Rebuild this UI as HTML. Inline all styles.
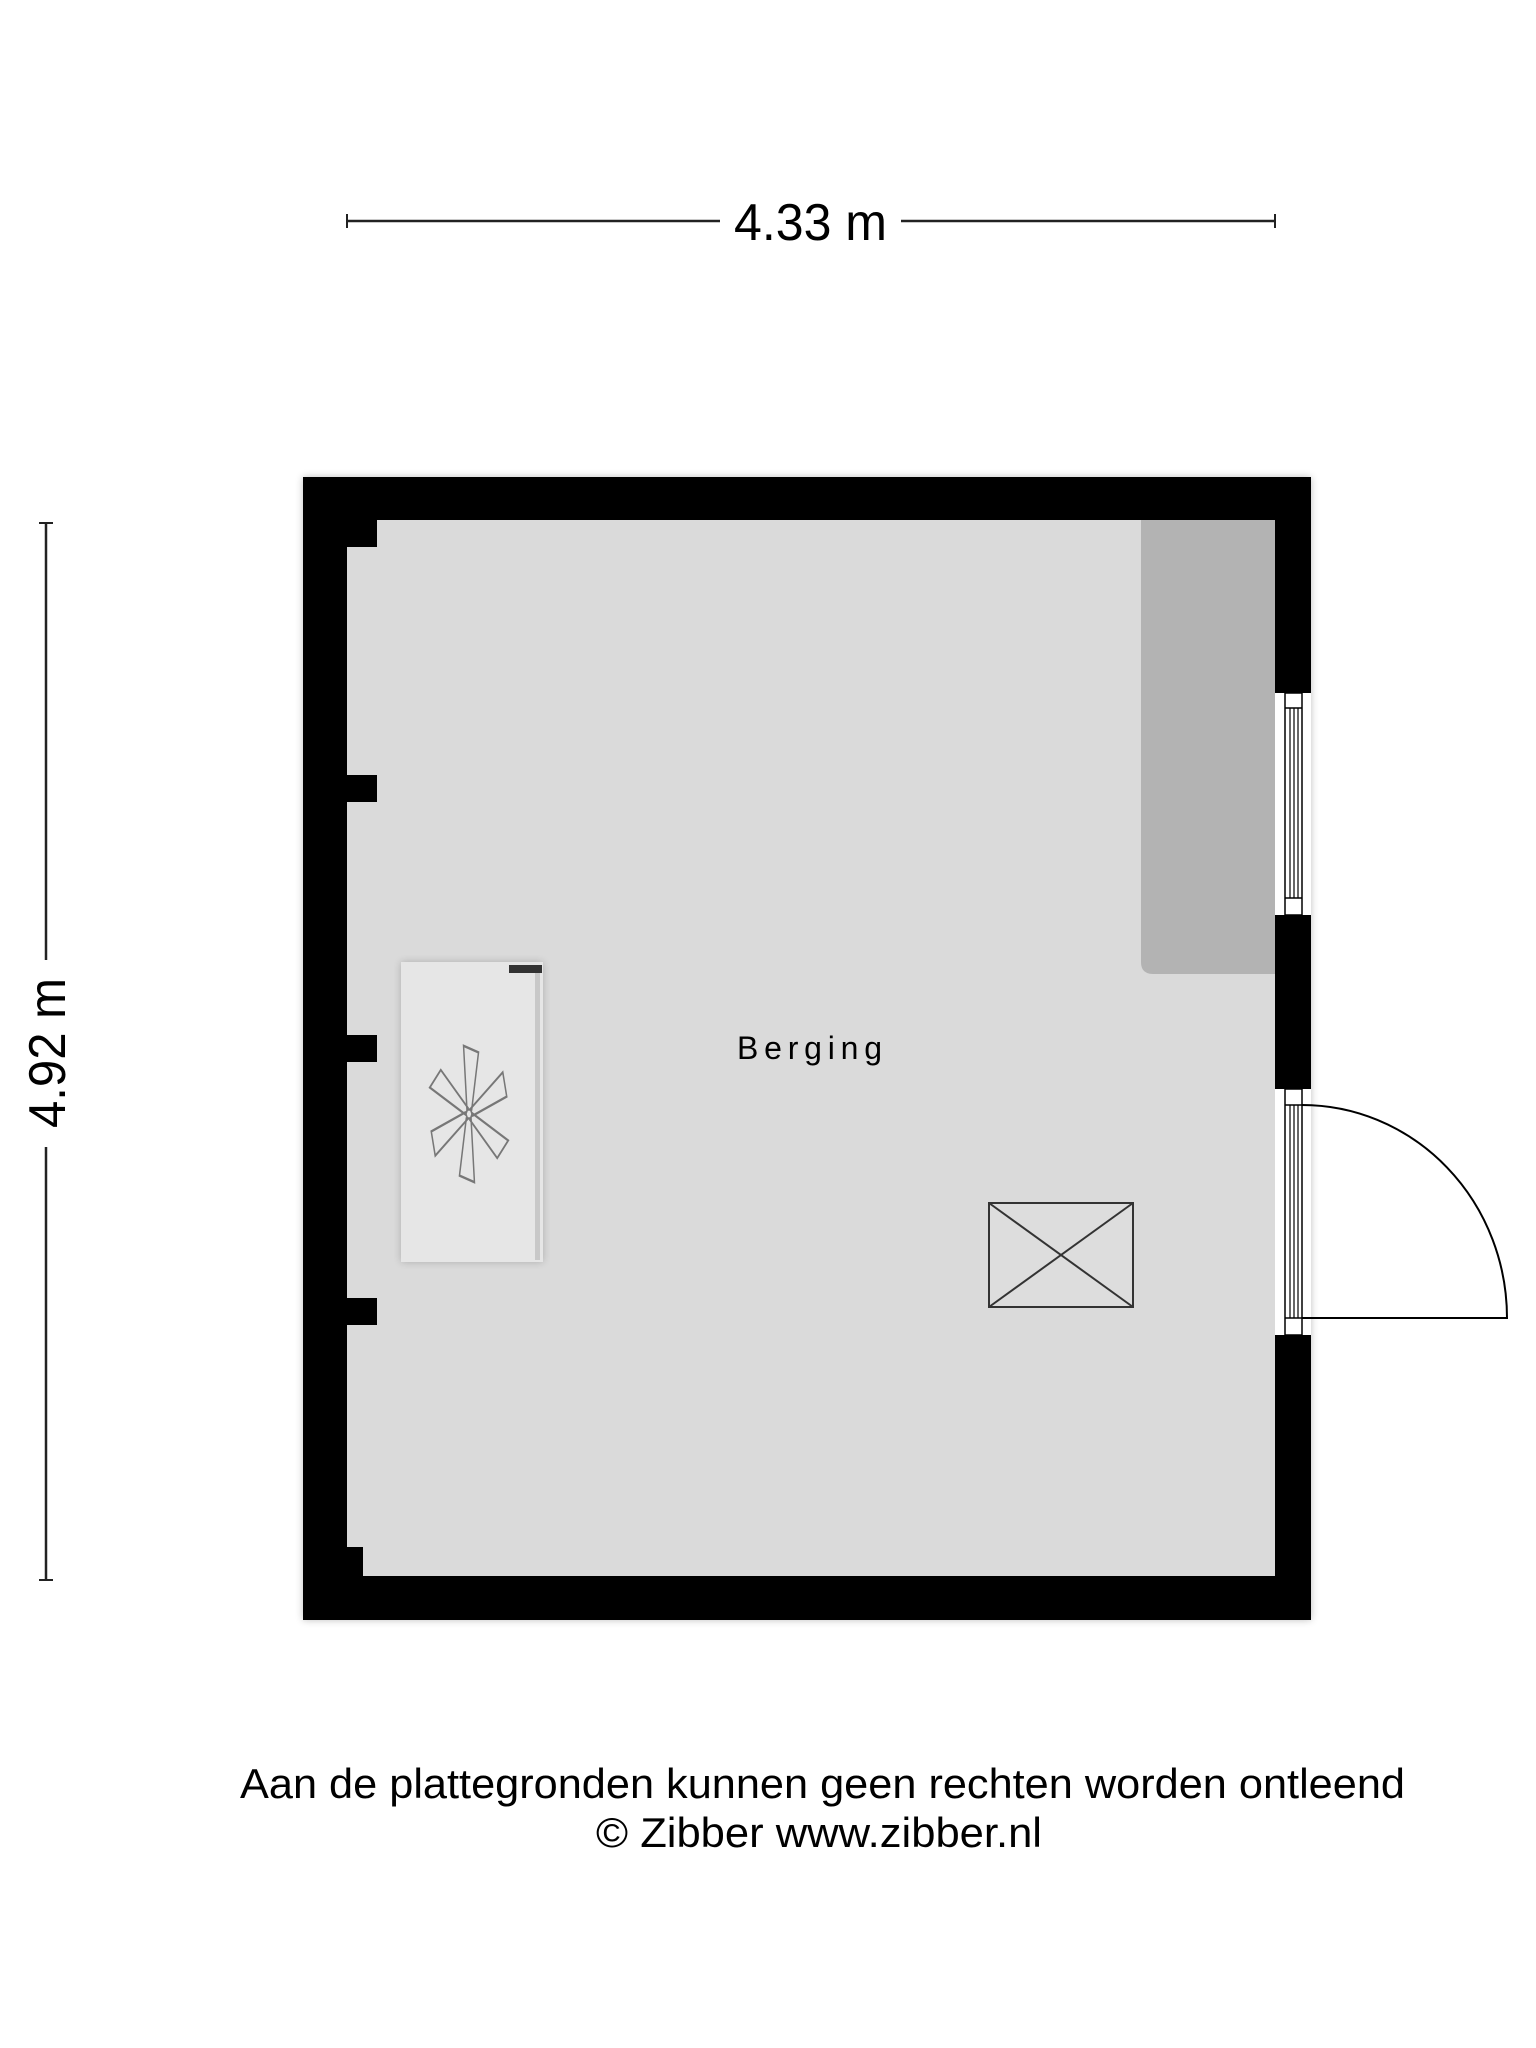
<!DOCTYPE html>
<html><head><meta charset="utf-8"><style>
html,body{margin:0;padding:0;background:#fff;width:1536px;height:2048px;overflow:hidden}
svg{display:block}
text{font-family:"Liberation Sans",sans-serif;fill:#000}
</style></head><body>
<svg width="1536" height="2048" viewBox="0 0 1536 2048" xmlns="http://www.w3.org/2000/svg">
<defs>
<filter id="sh" x="-5%" y="-5%" width="110%" height="110%"><feGaussianBlur stdDeviation="4"/></filter>
</defs>
<!-- top dimension -->
<line x1="346" y1="221" x2="720" y2="221" stroke="#222" stroke-width="2.5"/>
<line x1="901" y1="221" x2="1276" y2="221" stroke="#222" stroke-width="2.5"/>
<line x1="347" y1="214" x2="347" y2="228" stroke="#222" stroke-width="2"/>
<line x1="1275" y1="214" x2="1275" y2="228" stroke="#222" stroke-width="2"/>
<text x="734" y="240" font-size="52" textLength="153" lengthAdjust="spacingAndGlyphs">4.33 m</text>
<!-- left dimension -->
<line x1="46" y1="523" x2="46" y2="960" stroke="#222" stroke-width="2.5"/>
<line x1="46" y1="1147" x2="46" y2="1580" stroke="#222" stroke-width="2.5"/>
<line x1="39" y1="523" x2="53" y2="523" stroke="#222" stroke-width="2"/>
<line x1="39" y1="1580" x2="53" y2="1580" stroke="#222" stroke-width="2"/>
<text transform="translate(65,1128) rotate(-90)" font-size="52" textLength="150" lengthAdjust="spacingAndGlyphs">4.92 m</text>
<!-- shadow -->
<rect x="303" y="477" width="1008" height="1143" fill="#000" opacity="0.25" filter="url(#sh)"/>
<!-- walls -->
<rect x="303" y="477" width="1008" height="1143" fill="#000"/>
<!-- floor -->
<path d="M377 520 H1275 V1576 H363 V1547 H347 V1325 H377 V1298 H347 V1062 H377 V1035 H347 V802 H377 V775 H347 V547 H377 Z" fill="#dadada"/>
<!-- cabinet -->
<path d="M1141 520 H1275 V974 H1153 Q1141 974 1141 962 Z" fill="#b3b3b3"/>
<!-- window -->
<rect x="1275" y="693" width="36" height="222" fill="#fff"/>
<rect x="1285" y="693" width="17" height="222" fill="#fff" stroke="#000" stroke-width="1.5"/>
<line x1="1285" y1="708" x2="1302" y2="708" stroke="#000" stroke-width="1.5"/>
<line x1="1285" y1="898" x2="1302" y2="898" stroke="#000" stroke-width="1.5"/>
<line x1="1290" y1="708" x2="1290" y2="898" stroke="#000" stroke-width="1.2"/>
<line x1="1294" y1="708" x2="1294" y2="898" stroke="#000" stroke-width="1.2"/>
<line x1="1298" y1="708" x2="1298" y2="898" stroke="#000" stroke-width="1.2"/>
<!-- door -->
<rect x="1275" y="1089" width="36" height="246" fill="#fff"/>
<rect x="1285" y="1089" width="17" height="246" fill="#fff" stroke="#000" stroke-width="1.5"/>
<line x1="1285" y1="1105" x2="1302" y2="1105" stroke="#000" stroke-width="1.5"/>
<line x1="1285" y1="1318" x2="1302" y2="1318" stroke="#000" stroke-width="1.5"/>
<line x1="1290" y1="1105" x2="1290" y2="1318" stroke="#000" stroke-width="1.2"/>
<line x1="1294" y1="1105" x2="1294" y2="1318" stroke="#000" stroke-width="1.2"/>
<line x1="1298" y1="1105" x2="1298" y2="1318" stroke="#000" stroke-width="1.2"/>
<path d="M1302 1105 A205 213 0 0 1 1507 1318 H1302" fill="none" stroke="#000" stroke-width="2"/>
<!-- radiator / heater -->
<rect x="401" y="962" width="142" height="300" fill="#000" opacity="0.2" filter="url(#sh)"/>
<rect x="401" y="962" width="142" height="300" fill="#e6e6e6"/>
<rect x="535" y="972" width="5" height="288" fill="#c8c8c8"/>
<rect x="509" y="965" width="33" height="8" fill="#333"/>
<g transform="translate(469,1114) scale(0.68,1.1)" fill="none" stroke="#777" stroke-width="2.2">
<polygon points="-3,-4 -8,-62 14,-56 4,-4"/>
<polygon points="-3,-4 -8,-62 14,-56 4,-4" transform="rotate(60)"/>
<polygon points="-3,-4 -8,-62 14,-56 4,-4" transform="rotate(120)"/>
<polygon points="-3,-4 -8,-62 14,-56 4,-4" transform="rotate(180)"/>
<polygon points="-3,-4 -8,-62 14,-56 4,-4" transform="rotate(240)"/>
<polygon points="-3,-4 -8,-62 14,-56 4,-4" transform="rotate(300)"/>
</g>
<!-- box with X -->
<rect x="989" y="1203" width="144" height="104" fill="#dddddd" stroke="#333" stroke-width="2"/>
<line x1="989" y1="1203" x2="1133" y2="1307" stroke="#333" stroke-width="2"/>
<line x1="1133" y1="1203" x2="989" y2="1307" stroke="#333" stroke-width="2"/>
<!-- label -->
<text x="737" y="1059" font-size="32" textLength="145" lengthAdjust="spacing">Berging</text>
<!-- footer -->
<text x="240" y="1798" font-size="42" textLength="1165" lengthAdjust="spacingAndGlyphs">Aan de plattegronden kunnen geen rechten worden ontleend</text>
<text x="596" y="1847" font-size="42" textLength="446" lengthAdjust="spacingAndGlyphs">© Zibber www.zibber.nl</text>
</svg>
</body></html>
